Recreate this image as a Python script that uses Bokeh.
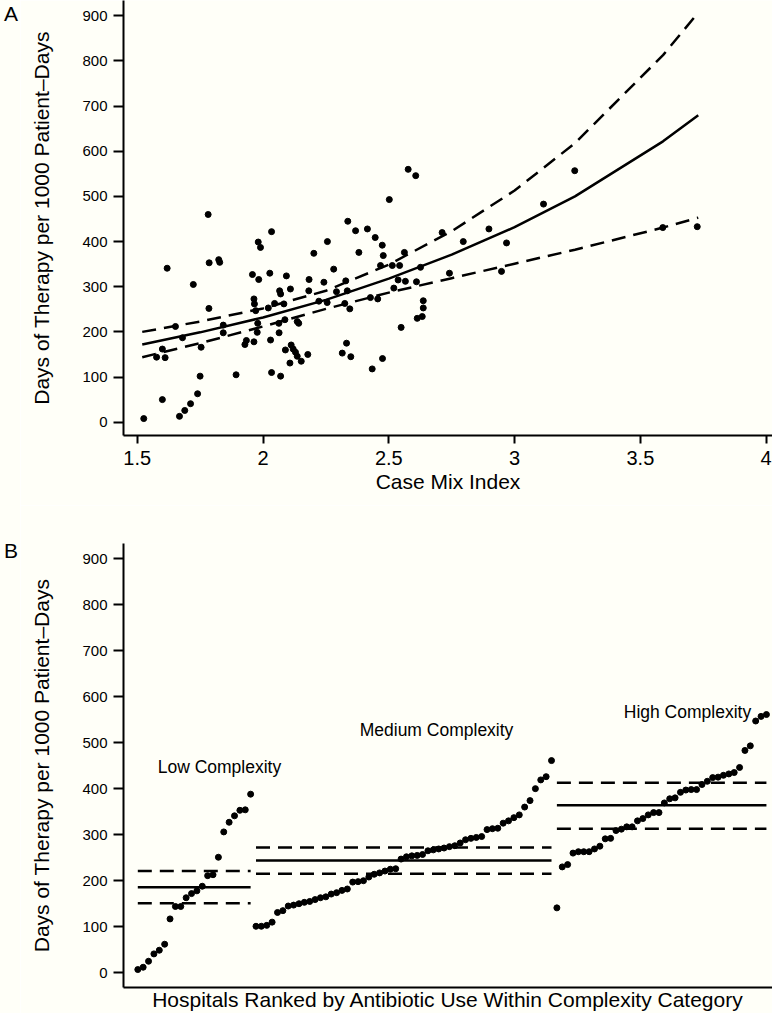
from bokeh.plotting import figure
from bokeh.models import FixedTicker, CustomJSTickFormatter, Label, Div
from bokeh.layouts import column, row
from bokeh.embed import file_html
from bokeh.resources import INLINE

# ---------------- Panel A data ----------------
cmi = [1.526, 1.577, 1.600, 1.600, 1.611, 1.619, 1.652, 1.668, 1.680, 1.689,
       1.712, 1.723, 1.740, 1.750, 1.754, 1.782, 1.785, 1.786, 1.824, 1.828,
       1.842, 1.842, 1.893, 1.928, 1.934, 1.958, 1.964, 1.964, 1.966, 1.971,
       1.977, 1.979, 1.981, 1.983, 1.990, 2.021, 2.027, 2.030, 2.034, 2.034,
       2.046, 2.063, 2.064, 2.066, 2.070, 2.070, 2.083, 2.087, 2.089, 2.093,
       2.107, 2.109, 2.112, 2.120, 2.129, 2.136, 2.136, 2.142, 2.152, 2.178,
       2.182, 2.183, 2.202, 2.222, 2.242, 2.255, 2.256, 2.281, 2.292, 2.315,
       2.325, 2.329, 2.332, 2.335, 2.337, 2.345, 2.349, 2.368, 2.381, 2.415,
       2.427, 2.434, 2.446, 2.456, 2.467, 2.474, 2.475, 2.478, 2.502, 2.514,
       2.520, 2.537, 2.543, 2.549, 2.562, 2.566, 2.577, 2.607, 2.610, 2.613,
       2.626, 2.633, 2.637, 2.637, 2.712, 2.741, 2.796, 2.898, 2.948, 2.968,
       3.115, 3.239, 3.589, 3.726]
dot = [8, 144, 162, 50, 143, 341, 212, 13, 187, 26,
       41, 305, 63, 102, 166, 460, 252, 353, 360, 354,
       215, 198, 105, 172, 181, 327, 178, 273, 262, 247,
       199, 219, 399, 316, 387, 253, 330, 182, 110, 422,
       263, 219, 198, 291, 284, 102, 262, 227, 160, 324,
       131, 295, 171, 162, 155, 146, 223, 219, 135, 150,
       291, 316, 374, 268, 310, 265, 400, 339, 289, 153,
       263, 313, 175, 291, 445, 251, 145, 424, 376, 428,
       276, 118, 409, 273, 347, 392, 141, 369, 493, 347,
       297, 315, 347, 210, 376, 312, 560, 546, 311, 230,
       343, 234, 269, 253, 420, 330, 400, 428, 334, 397,
       483, 557, 431, 433]

fit_x = [1.52, 1.75, 2.0, 2.25, 2.5, 2.75, 3.0, 3.24, 3.59, 3.73]
fit_mid = [172, 199, 232, 271, 318, 371, 432, 500, 622, 680]
fit_lo = [144, 175, 212, 251, 287, 319, 351, 382, 431, 453]
fit_hi = [200, 223, 252, 291, 349, 423, 513, 618, 813, 907]

x_ticks_a = [1.5, 2, 2.5, 3, 3.5, 4]
y_ticks = [0, 100, 200, 300, 400, 500, 600, 700, 800, 900]

# ---------------- Panel B data ----------------
low_vals = [7, 12, 25, 41, 49, 62, 117, 144, 144, 163, 172, 178, 188, 211, 213,
            251, 306, 327, 341, 353, 354, 388]
med_vals = [101, 101, 103, 110, 131, 135, 145, 147, 150, 153, 155, 159, 163, 165,
            171, 174, 179, 182, 197, 198, 200, 208, 214, 217, 221, 225, 226, 247,
            252, 254, 255, 257, 265, 267, 269, 271, 274, 276, 282, 289, 292, 294,
            296, 311, 313, 314, 325, 330, 337, 343, 360, 374, 400, 419, 426, 461]
high_vals = [141, 230, 235, 260, 263, 263, 263, 269, 275, 291, 292, 309, 312, 317,
             317, 330, 335, 343, 348, 348, 369, 378, 380, 392, 397, 398, 398, 409,
             416, 424, 425, 429, 432, 435, 446, 483, 493, 547, 557, 561]
group_names = ["Low Complexity", "Medium Complexity", "High Complexity"]
group_mean = [186, 244, 364]
group_lo = [151, 215, 313]
group_hi = [221, 272, 413]

BG = "#FFFFF8"
FONT = "Liberation Sans"
YLAB = "Days of Therapy per 1000 Patient\u2013Days"
LETTER_W = 20


def style(p):
    p.background_fill_color = BG
    p.border_fill_color = BG
    p.outline_line_color = None
    p.grid.visible = False
    for ax in p.axis:
        ax.axis_line_width = 2
        ax.axis_line_color = "black"
        ax.major_tick_line_width = 2
        ax.major_tick_line_color = "black"
        ax.major_tick_in = 0
        ax.major_tick_out = 8
        ax.minor_tick_line_color = None
        ax.major_label_text_font = FONT
        ax.major_label_text_color = "black"
        ax.axis_label_text_font = FONT
        ax.axis_label_text_font_style = "normal"
        ax.axis_label_text_font_size = "21px"
        ax.axis_label_text_color = "black"
    p.yaxis.ticker = FixedTicker(ticks=y_ticks)
    p.yaxis.major_tick_out = 10
    p.yaxis.major_label_text_font_size = "15px"
    p.yaxis.major_label_standoff = 6
    p.yaxis.axis_label = YLAB
    p.yaxis.axis_label_standoff = 26


def letter(txt, h, top):
    return Div(text=txt, width=LETTER_W, height=h, margin=0,
               styles={"background-color": BG, "font-family": FONT,
                       "font-size": "21px", "color": "black",
                       "padding-left": "4px", "padding-top": "%dpx" % top,
                       "box-sizing": "border-box", "line-height": "1"})


# ---------------- Panel A ----------------
HA = 505
pa = figure(width=772 - LETTER_W, height=HA, x_range=(1.4455, 4.0251),
            y_range=(-29.45, 933.9),
            output_backend="svg", toolbar_location=None,
            min_border_left=123 - LETTER_W, min_border_right=0, min_border_top=0,
            min_border_bottom=70)
style(pa)
pa.xaxis.ticker = FixedTicker(ticks=x_ticks_a)
pa.xaxis.formatter = CustomJSTickFormatter(code="return String(tick)")
pa.xaxis.major_label_text_font_size = "20px"
pa.xaxis.major_label_standoff = 7
pa.xaxis.axis_label = "Case Mix Index"
pa.xaxis.axis_label_standoff = 2

pa.line(fit_x, fit_hi, line_color="black", line_width=2.5, line_dash="14 8")
pa.line(fit_x, fit_lo, line_color="black", line_width=2.5, line_dash="14 8")
pa.line(fit_x, fit_mid, line_color="black", line_width=2.5)
pa.scatter(cmi, dot, size=6, color="black")

# ---------------- Panel B ----------------
groups = [low_vals, med_vals, high_vals]
rank_x, rank_y, starts, ends = [], [], [], []
i = 1
for g in groups:
    starts.append(i)
    for v in g:
        rank_x.append(i)
        rank_y.append(v)
        i += 1
    ends.append(i - 1)

HB = 508
pb = figure(width=772 - LETTER_W, height=HB, x_range=(-1.661, 119.13),
            y_range=(-32, 932.6),
            output_backend="svg", toolbar_location=None,
            min_border_left=123 - LETTER_W, min_border_right=0, min_border_top=38,
            min_border_bottom=26)
style(pb)
pb.xaxis.ticker = FixedTicker(ticks=[])
pb.xaxis.major_tick_out = 0
pb.xaxis.major_label_standoff = 0
pb.xaxis.axis_label = "Hospitals Ranked by Antibiotic Use Within Complexity Category"
pb.xaxis.axis_label_standoff = 0

pb.segment(x0=starts, x1=ends, y0=group_hi, y1=group_hi, line_color="black",
           line_width=2.5, line_dash="14 8")
pb.segment(x0=starts, x1=ends, y0=group_lo, y1=group_lo, line_color="black",
           line_width=2.5, line_dash="14 8")
pb.segment(x0=starts, x1=ends, y0=group_mean, y1=group_mean, line_color="black",
           line_width=2.5)
pb.scatter(rank_x, rank_y, size=6, color="black")

label_pos = [(16.2, 446), (56.6, 527), (103.3, 566)]
for name, (lx, ly) in zip(group_names, label_pos):
    pb.add_layout(Label(x=lx, y=ly, text=name, text_align="center",
                        text_baseline="middle", text_font=FONT,
                        text_font_size="17.5px", text_color="black"))

layout = column(row(letter("A", HA, 3), pa), row(letter("B", HB, 35), pb))
open("out.html", "w").write(file_html(layout, INLINE))
